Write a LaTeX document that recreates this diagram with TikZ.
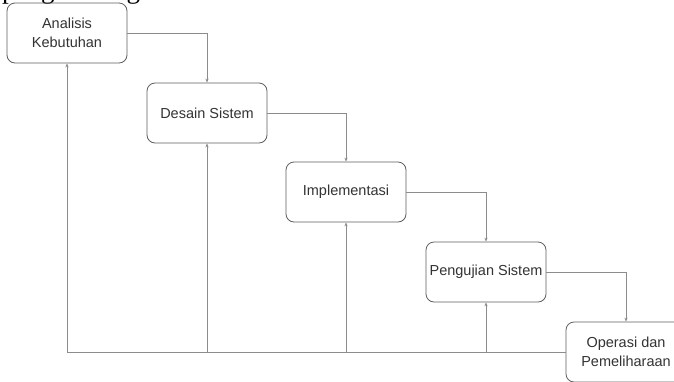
\documentclass[tikz,border=0pt]{standalone}
\usepackage{fontspec}
\setmainfont{Liberation Sans}
\newfontfamily\serifbody{Liberation Serif}
\usetikzlibrary{arrows.meta}
\definecolor{boxline}{HTML}{5E5E5E}
\definecolor{flowline}{HTML}{8C8C8C}
\definecolor{labeltext}{HTML}{333333}
\tikzset{
  phase/.style={draw=boxline, line width=0.8pt, rounded corners=8pt,
    minimum width=120pt, minimum height=60pt, inner sep=2pt,
    align=center, text=labeltext, font=\fontsize{14.5}{18.5}\selectfont},
  flow/.style={draw=flowline, line width=0.8pt,
    -{Stealth[length=4pt,width=3.2pt]}},
  plain/.style={draw=flowline, line width=0.8pt}
}
\begin{document}
\begin{tikzpicture}[x=1pt,y=-1pt]
\useasboundingbox (0,0) rectangle (674,381);
\begin{scope}
\clip (0,0) rectangle (674,381);
\fill[white] (0,0) rectangle (674,381);
% running text of the page above the figure
\node[anchor=base west, inner sep=0pt, font=\serifbody\fontsize{27}{30}\selectfont]
  (pagetext) at (2,-1.5) {pengembangan};

% waterfall phases
\node[phase] (A) at (67,33)  {Analisis\\Kebutuhan};
\node[phase] (B) at (207,113) {Desain Sistem};
\node[phase] (C) at (346,192) {Implementasi};
\node[phase] (D) at (486,272) {Pengujian Sistem};
\node[phase] (E) at (626,352) {Operasi dan\\Pemeliharaan};

% forward flow
\draw[flow] (A.east) -| (B.north);
\draw[flow] (B.east) -| (C.north);
\draw[flow] (C.east) -| (D.north);
\draw[flow] (D.east) -| (E.north);

% feedback line back to each phase
\draw[flow] (E.west) -| (A.south);
\draw[flow] (B.south |- E.west) -- (B.south);
\draw[flow] (C.south |- E.west) -- (C.south);
\draw[flow] (D.south |- E.west) -- (D.south);
\end{scope}
\end{tikzpicture}
\end{document}
